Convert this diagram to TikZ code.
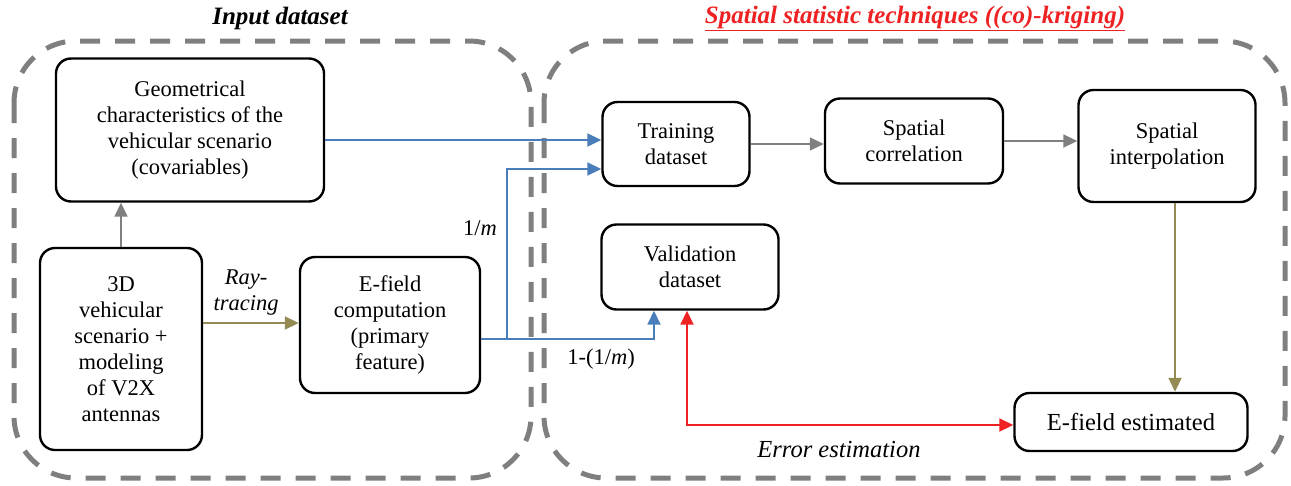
\documentclass[tikz,border=0pt]{standalone}
\usepackage{fontspec}
\setmainfont{Liberation Serif}
\usetikzlibrary{arrows.meta,calc}
\definecolor{flowblue}{HTML}{4A7EBB}
\definecolor{flowgray}{HTML}{808080}
\definecolor{flowolive}{HTML}{948A54}
\definecolor{flowred}{HTML}{EE2222}
\definecolor{regiongray}{HTML}{7F7F7F}
\begin{document}
\begin{tikzpicture}[x=1pt,y=-1pt,
  every node/.style={font=\rmfamily\fontsize{22.5}{26}\selectfont},
  box/.style={draw=black,line width=2.4pt,rounded corners=15pt,align=center,inner sep=0pt},
  region/.style={draw=regiongray,line width=5pt,rounded corners=62pt,dash pattern=on 20pt off 15pt},
  conn/.style={line width=1.8pt,-{Triangle[length=14pt,width=13pt]}},
  bluearr/.style={conn,draw=flowblue},
  grayarr/.style={conn,draw=flowgray},
  olivearr/.style={conn,draw=flowolive},
  redarr/.style={line width=1.8pt,draw=flowred,{Triangle[length=14pt,width=13pt]}-{Triangle[length=14pt,width=13pt]}},
  title/.style={font=\rmfamily\fontsize{25}{30}\selectfont\bfseries\itshape}]
\useasboundingbox (0,0) rectangle (1291,485);

% dashed regions
\draw[region] (14,41) rectangle (531,478);
\draw[region] (544,41) rectangle (1285,478);

% region titles
\node[title] (ttlin) at (280,18) {Input dataset};
\node[title,text=flowred] (ttlsp) at (915,18) {\underline{Spatial statistic techniques ((co)-kriging)}};

% blocks
\node[box,minimum width=268pt,minimum height=143pt] (geo) at (190,130)
  {Geometrical\\characteristics of the\\vehicular scenario\\(covariables)};
\node[box,minimum width=162pt,minimum height=202pt] (scen) at (121,349)
  {3D\\vehicular\\scenario +\\modeling\\of V2X\\antennas};
\node[box,minimum width=180pt,minimum height=136pt] (efc) at (390,325)
  {E-field\\computation\\(primary\\feature)};
\node[box,minimum width=147pt,minimum height=84pt] (train) at (676,144)
  {Training\\dataset};
\node[box,minimum width=178pt,minimum height=85pt] (corr) at (914,141)
  {Spatial\\correlation};
\node[box,minimum width=177pt,minimum height=112pt] (interp) at (1167,146)
  {Spatial\\interpolation};
\node[box,minimum width=177pt,minimum height=85pt] (valid) at (690,267)
  {Validation\\dataset};
\node[box,minimum width=233pt,minimum height=58pt,font=\rmfamily\fontsize{24.5}{28}\selectfont] (est) at (1131,422)
  {E-field estimated};

% connector end points
\coordinate (rayout) at ([yshift=26pt]scen.east);
\coordinate (geoout) at ([yshift=-10pt]geo.east);
\coordinate (efcout) at ([yshift=-14pt]efc.east);
\coordinate (split) at (507,339);
\coordinate (interpout) at ([xshift=8pt]interp.south);

% connectors
\draw[grayarr] (scen.north) -- (scen.north |- geo.south);
\draw[olivearr] (rayout) -- (efc.west |- rayout);
\draw[bluearr] (geoout) -- (train.west |- geoout);
\draw[line width=1.8pt,flowblue] (efcout) -- (split);
\draw[bluearr] (split) |- ([yshift=-25pt]train.west);
\draw[bluearr] (split) -| ([xshift=-36pt]valid.south);
\draw[redarr] ([xshift=-3pt]valid.south) |- ([yshift=-3pt]est.west);
\draw[grayarr] (train.east) -- (corr.west |- train.east);
\draw[grayarr] (corr.east) -- (interp.west |- corr.east);
\draw[olivearr] (interpout) -- (interpout |- est.north);

% connector labels
\node[font=\rmfamily\fontsize{22.5}{26}\selectfont\itshape,align=center] (lray) at (246,293) {Ray-\\tracing};
\node (lone) at (480,228) {1/\textit{m}};
\node (lrest) at (601,359) {1-(1/\textit{m})};
\node[font=\rmfamily\fontsize{24.5}{28}\selectfont\itshape] (lerr) at (839,450) {Error estimation};
\end{tikzpicture}
\end{document}
